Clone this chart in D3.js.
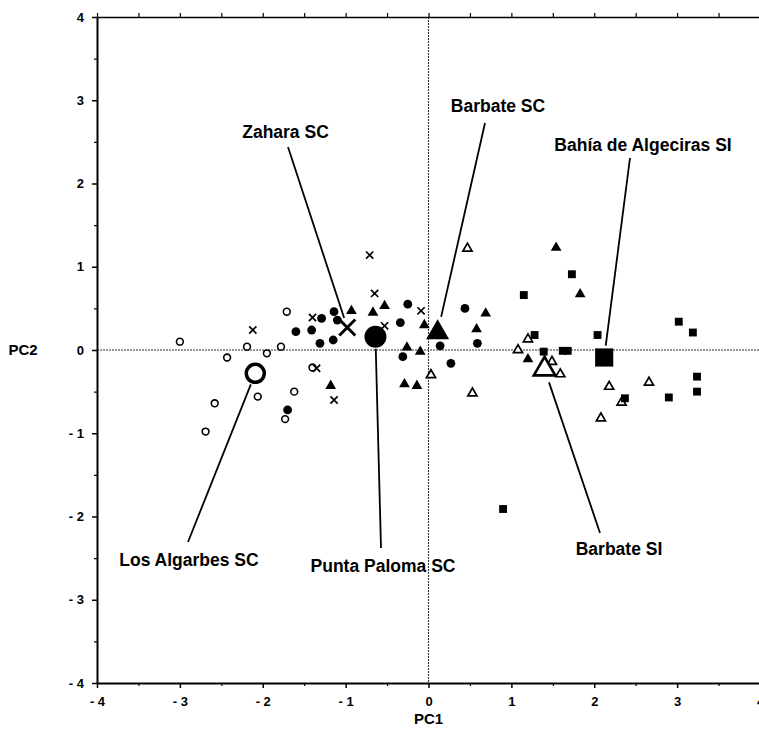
<!DOCTYPE html>
<html>
<head>
<meta charset="utf-8">
<script src="https://cdn.jsdelivr.net/npm/d3@7"></script>
<style>
  html, body { margin: 0; padding: 0; background: #fff; }
  svg { display: block; font-family: "Liberation Sans", Arial, sans-serif; }
</style>
</head>
<body>
<svg id="chart" width="759" height="749"></svg>
<script>
// PCA scores (PC1, PC2) for each sampling group
const losAlgarbesSC = [
  [-1.71, 0.46], [-3.00, 0.10], [-2.19, 0.04], [-2.43, -0.09], [-1.95, -0.04],
  [-1.78, 0.04], [-2.06, -0.56], [-2.58, -0.64], [-2.69, -0.98], [-1.62, -0.50],
  [-1.73, -0.83], [-1.40, -0.21], [-2.05, -0.25]
];
const zaharaSC = [
  [-0.71, 1.14], [-0.65, 0.68], [-0.09, 0.47], [-1.40, 0.39], [-0.53, 0.29],
  [-1.35, -0.22], [-1.14, -0.60], [-2.12, 0.24]
];
const puntaPalomaSC = [
  [-1.70, -0.72], [-1.60, 0.22], [-0.25, 0.55], [-0.34, 0.33], [-1.29, 0.38],
  [-1.14, 0.46], [-1.10, 0.36], [-1.41, 0.24], [-1.31, 0.08], [-1.15, 0.12],
  [-0.31, -0.08], [0.44, 0.50], [0.14, 0.05], [0.59, 0.08], [0.27, -0.16]
];
const barbateSC = [
  [-0.53, 0.53], [-0.93, 0.47], [-0.67, 0.45], [-0.05, 0.30], [-0.26, 0.03],
  [-0.10, -0.02], [-0.29, -0.41], [-0.14, -0.43], [-1.18, -0.43], [1.54, 1.23],
  [0.69, 0.44], [0.58, 0.25], [1.20, -0.11], [1.83, 0.67]
];
const barbateSI = [
  [0.47, 1.22], [0.03, -0.30], [0.53, -0.52], [1.20, 0.13], [1.08, 0.00],
  [1.49, -0.14], [1.59, -0.29], [2.66, -0.39], [2.18, -0.44], [2.33, -0.63],
  [2.08, -0.82]
];
const bahiaAlgecirasSI = [
  [1.15, 0.66], [1.28, 0.18], [1.39, -0.02], [1.62, -0.01], [1.68, -0.01],
  [1.73, 0.91], [2.04, 0.18], [3.02, 0.34], [3.19, 0.21], [3.24, -0.32],
  [3.24, -0.50], [2.90, -0.57], [2.37, -0.58], [0.90, -1.91]
];

// Group centroids
const groupNames = ["Los Algarbes SC", "Zahara SC", "Punta Paloma SC", "Barbate SC", "Barbate SI", "Bahía de Algeciras SI"];
const centroidPC1 = [-2.09, -0.98, -0.64, 0.11, 1.40, 2.12];
const centroidPC2 = [-0.28, 0.27, 0.16, 0.21, -0.23, -0.09];

// Axis ticks
const majorTicks = [-4, -3, -2, -1, 0, 1, 2, 3, 4];
const minorTicks = [-3.5, -2.5, -1.5, -0.5, 0.5, 1.5, 2.5, 3.5];

(function () {
  const svg = d3.select("#chart");
  const pLeft = 97, pRight = 760, pTop = 17, pBottom = 683;
  const x = d3.scaleLinear().domain([-4, 4]).range([pLeft, pRight]);
  const y = d3.scaleLinear().domain([-4, 4]).range([pBottom, pTop]);

  // Zero reference lines
  const zero = svg.append("g").attr("stroke", "#333").attr("stroke-width", 1.1).attr("stroke-dasharray", "2,1");
  zero.append("line").attr("x1", x(0)).attr("x2", x(0)).attr("y1", pTop).attr("y2", pBottom);
  zero.append("line").attr("x1", pLeft).attr("x2", pRight).attr("y1", y(0)).attr("y2", y(0));

  // Axes
  const fmt = d => d < 0 ? "- " + Math.abs(d) : String(d);
  function styleAxis(g) {
    g.select(".domain").attr("stroke", "#000").attr("stroke-width", 2);
    g.selectAll(".tick line").attr("stroke", "#000").attr("stroke-width", 1.5);
    g.selectAll(".tick text").attr("fill", "#000").attr("font-size", 13).attr("font-weight", "bold");
  }
  const xAxis = svg.append("g").attr("transform", `translate(0,${pBottom})`)
    .call(d3.axisBottom(x).tickValues(majorTicks).tickFormat(fmt).tickSize(5).tickSizeOuter(0).tickPadding(9));
  styleAxis(xAxis);
  const yAxis = svg.append("g").attr("transform", `translate(${pLeft},0)`)
    .call(d3.axisLeft(y).tickValues(majorTicks).tickFormat(fmt).tickSize(5).tickSizeOuter(0).tickPadding(8));
  styleAxis(yAxis);
  const topAxis = svg.append("g").attr("transform", `translate(0,${pTop})`)
    .call(d3.axisTop(x).tickValues(majorTicks.concat(minorTicks)).tickFormat("").tickSize(4).tickSizeOuter(0));
  topAxis.select(".domain").attr("stroke", "#000").attr("stroke-width", 1.5);
  topAxis.selectAll(".tick line").attr("stroke", "#000").attr("stroke-width", 1.2);

  // Minor ticks
  const minorX = svg.append("g").attr("transform", `translate(0,${pBottom})`)
    .call(d3.axisBottom(x).tickValues(minorTicks).tickFormat("").tickSize(3).tickSizeOuter(0));
  minorX.select(".domain").remove();
  minorX.selectAll(".tick line").attr("stroke", "#000").attr("stroke-width", 1.2);
  const minorY = svg.append("g").attr("transform", `translate(${pLeft},0)`)
    .call(d3.axisLeft(y).tickValues(minorTicks).tickFormat("").tickSize(3).tickSizeOuter(0));
  minorY.select(".domain").remove();
  minorY.selectAll(".tick line").attr("stroke", "#000").attr("stroke-width", 1.2);

  // Axis titles
  svg.append("text").attr("x", x(0)).attr("y", 724).attr("text-anchor", "middle")
    .attr("font-size", 15).attr("font-weight", "bold").text("PC1");
  svg.append("text").attr("x", 23).attr("y", y(0)).attr("dy", "0.35em").attr("text-anchor", "middle")
    .attr("font-size", 15).attr("font-weight", "bold").text("PC2");

  // Marker shapes
  const crossPath = h => `M${-h},${-h}L${h},${h}M${-h},${h}L${h},${-h}`;
  const marks = svg.append("g");
  function drawGroup(data, kind, large) {
    const g = marks.append("g");
    data.forEach(([a, b]) => {
      const t = `translate(${x(a)},${y(b)})`;
      if (kind === "openCircle") {
        g.append("circle").attr("transform", t).attr("r", large ? 9 : 3.4)
          .attr("fill", "#fff").attr("stroke", "#000").attr("stroke-width", large ? 3.5 : 1.6);
      } else if (kind === "filledCircle") {
        g.append("circle").attr("transform", t).attr("r", large ? 11 : 4.4).attr("fill", "#000");
      } else if (kind === "cross") {
        g.append("path").attr("transform", t).attr("d", crossPath(large ? 8 : 3.6))
          .attr("fill", "none").attr("stroke", "#000").attr("stroke-width", large ? 3 : 1.7);
      } else if (kind === "filledTriangle") {
        g.append("path").attr("transform", t)
          .attr("d", d3.symbol(d3.symbolTriangle, large ? 230 : 50)()).attr("fill", "#000");
      } else if (kind === "openTriangle") {
        g.append("path").attr("transform", t)
          .attr("d", d3.symbol(d3.symbolTriangle, large ? 200 : 36)())
          .attr("fill", "#fff").attr("stroke", "#000").attr("stroke-width", large ? 2.6 : 1.7);
      } else if (kind === "filledSquare") {
        g.append("path").attr("transform", t)
          .attr("d", d3.symbol(d3.symbolSquare, large ? 330 : 62)()).attr("fill", "#000");
      }
    });
  }
  const kinds = ["openCircle", "cross", "filledCircle", "filledTriangle", "openTriangle", "filledSquare"];
  [losAlgarbesSC, zaharaSC, puntaPalomaSC, barbateSC, barbateSI, bahiaAlgecirasSI]
    .forEach((d, i) => drawGroup(d, kinds[i], false));
  // Centroids drawn on top
  kinds.forEach((k, i) => drawGroup([[centroidPC1[i], centroidPC2[i]]], k, true));

  // Centroid labels with leader lines
  const labelPos = [
    { tx: 189, ty: 566, lx: 188, ly: 542 },
    { tx: 285.5, ty: 138, lx: 288, ly: 147 },
    { tx: 383, ty: 572, lx: 381, ly: 548 },
    { tx: 498, ty: 112, lx: 485, ly: 123 },
    { tx: 619, ty: 555, lx: 600, ly: 533 },
    { tx: 643, ty: 151, lx: 630, ly: 158 }
  ];
  // Leader lines stop just short of each centroid marker
  const gap = [12, 10, 12, 16, 14, 12];
  const ann = svg.append("g");
  groupNames.forEach((name, i) => {
    const p = labelPos[i];
    const cx = x(centroidPC1[i]), cy = y(centroidPC2[i]);
    const dx = cx - p.lx, dy = cy - p.ly, len = Math.hypot(dx, dy);
    const ex = cx - dx / len * gap[i], ey = cy - dy / len * gap[i];
    ann.append("line").attr("x1", p.lx).attr("y1", p.ly).attr("x2", ex).attr("y2", ey)
      .attr("stroke", "#000").attr("stroke-width", 1.8);
    ann.append("text").attr("x", p.tx).attr("y", p.ty).attr("text-anchor", "middle")
      .attr("font-size", 17.5).attr("font-weight", "bold").attr("fill", "#000").text(name);
  });
})();
</script>
</body>
</html>
